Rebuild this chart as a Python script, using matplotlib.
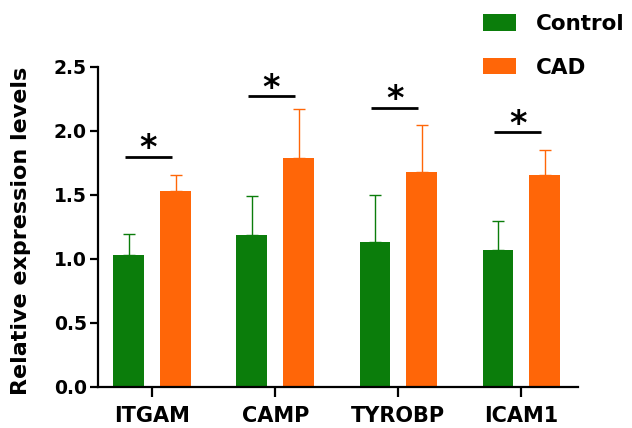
import matplotlib
matplotlib.use("Agg")
import matplotlib.pyplot as plt
import numpy as np

categories = ["ITGAM", "CAMP", "TYROBP", "ICAM1"]
control_mean = [1.03, 1.19, 1.13, 1.07]
control_err = [0.165, 0.30, 0.37, 0.23]
cad_mean = [1.53, 1.79, 1.68, 1.66]
cad_err = [0.13, 0.38, 0.37, 0.19]
sig_heights = [1.80, 2.27, 2.18, 1.99]
sig_labels = ["*", "*", "*", "*"]
yticks = [0.0, 0.5, 1.0, 1.5, 2.0, 2.5]

green = "#0b7d0b"
orange = "#ff6608"

plt.rcParams['font.family'] = ['DejaVu Sans']
plt.rcParams['font.weight'] = 'bold'

fig = plt.figure(figsize=(6.32, 4.28), dpi=100)
ax = fig.add_axes([98/632, 1-387/428, 480/632, 320/428])

x = np.arange(len(categories))
w = 0.25
off = 0.19
ax.bar(x - off, control_mean, width=w, color=green, label="Control", zorder=2)
ax.bar(x + off, cad_mean, width=w, color=orange, label="CAD", zorder=2)
ax.errorbar(x - off, control_mean, yerr=[np.zeros(4), control_err], fmt='none',
            ecolor=green, elinewidth=1.0, capsize=4.5, capthick=1.0, zorder=1)
ax.errorbar(x + off, cad_mean, yerr=[np.zeros(4), cad_err], fmt='none',
            ecolor=orange, elinewidth=1.0, capsize=4.5, capthick=1.0, zorder=1)

for xi, h, s in zip(x, sig_heights, sig_labels):
    ax.plot([xi - 0.22, xi + 0.16], [h, h], color='black', lw=2.0, solid_capstyle='butt')
    ax.text(xi - 0.03, h - 0.065, s, ha='center', va='bottom', fontsize=24,
            fontweight='bold', color='black')

ax.set_xlim(-0.44, 3.46)
ax.set_ylim(0, 2.5)
ax.set_yticks(yticks)
ax.set_yticklabels([f"{t:.1f}" for t in yticks], fontsize=13.5, fontweight='bold')
ax.set_xticks(x)
ax.set_xticklabels(categories, fontsize=15, fontweight='bold')
ax.set_ylabel("Relative expression levels", fontsize=16, fontweight='bold')
ax.yaxis.set_label_coords(-0.140, 0.489)

for side in ['top', 'right']:
    ax.spines[side].set_visible(False)
for side in ['left', 'bottom']:
    ax.spines[side].set_linewidth(1.6)
ax.tick_params(axis='both', width=1.6, length=6, color='black')
ax.tick_params(axis='y', pad=2)
ax.tick_params(axis='x', length=7, pad=7)

leg = fig.legend(loc='upper left', bbox_to_anchor=(483/632, 1 - 14/428),
                 frameon=False, fontsize=15.5, handlelength=1.55, handleheight=0.78,
                 handletextpad=0.9, labelspacing=1.1, borderpad=0, borderaxespad=0)
for t in leg.get_texts():
    t.set_fontweight('bold')

fig.savefig("out.png", dpi=100)
